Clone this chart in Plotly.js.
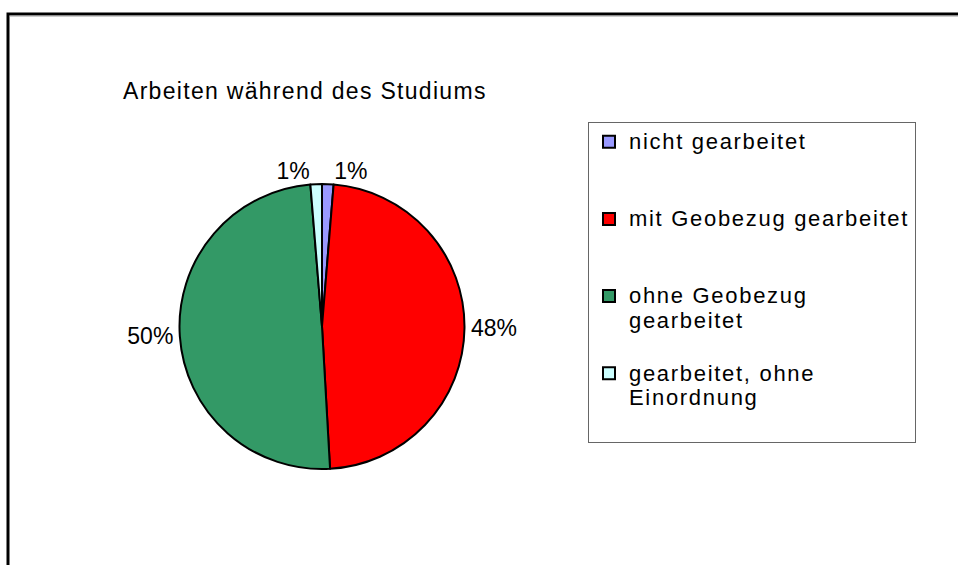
<!DOCTYPE html>
<html>
<head>
<meta charset="utf-8">
<script src="https://cdn.plot.ly/plotly-3.0.1.min.js"></script>
<style>
  html, body { margin: 0; padding: 0; background: #fff; }
  #chart { width: 958px; height: 565px; }
  .gtitle { letter-spacing: 1.3px; }
  .legendtext { letter-spacing: 1.7px; }
</style>
</head>
<body>
<div id="chart"></div>
<script>
// Data
const categories = [
  "nicht gearbeitet",
  "mit Geobezug gearbeitet",
  "ohne Geobezug<br>gearbeitet",
  "gearbeitet, ohne<br>Einordnung"
];
const shares = [1.3, 47.8, 49.6, 1.3];
const sliceColors = ["#9999FF", "#FF0000", "#339966", "#CCFFFF"];
const chartTitle = "Arbeiten während des Studiums";

// legend labels: each entry given three text lines so entries are spread like the original
const LEGEND_LINES = 3;
const legendLabels = categories.map(function (c) {
  const lines = c.split("<br>").map(function (l) {
    return '<span style="font-size:22px">' + l + '</span>';
  });
  while (lines.length < LEGEND_LINES) lines.push("\u00a0");
  return lines.join("<br>");
});

const W = 958, H = 565;

const trace = {
  type: "pie",
  labels: legendLabels,
  values: shares,
  sort: false,
  direction: "clockwise",
  rotation: 0,
  marker: { colors: sliceColors, line: { color: "#000000", width: 2 } },
  textinfo: "percent",
  texttemplate: "%{percent:.0%}",
  textposition: "outside",
  outsidetextfont: { family: "Liberation Sans, Arial, sans-serif", size: 23, color: "#000" },
  hoverinfo: "skip",
  domain: {
    x: [179.5 / W, 464.5 / W],
    y: [1 - 469 / H, 1 - 184 / H]
  }
};

const layout = {
  width: W,
  height: H,
  margin: { l: 0, r: 0, t: 0, b: 0 },
  paper_bgcolor: "#ffffff",
  font: { family: "Liberation Sans, Arial, sans-serif", color: "#000" },
  title: {
    text: chartTitle,
    xref: "paper", yref: "paper",
    x: 123 / W, xanchor: "left",
    y: 1 - 91 / H, yanchor: "middle",
    font: { size: 23, color: "#000" }
  },
  showlegend: true,
  legend: {
    x: 588 / W, xanchor: "left",
    y: 1 - 122 / H, yanchor: "top",
    bgcolor: "rgba(0,0,0,0)",
    bordercolor: "#666666",
    borderwidth: 1,
    valign: "top",
    font: { size: 19, color: "#000" },
    traceorder: "normal"
  },
  shapes: [
    {
      type: "rect", xref: "paper", yref: "paper",
      x0: 8 / W, x1: 1.3, y0: -0.3, y1: 1 - 14 / H,
      line: { color: "#000000", width: 3 },
      fillcolor: "rgba(0,0,0,0)"
    },
    {
      type: "line", xref: "paper", yref: "paper",
      x0: 9.5 / W, x1: 1.3, y0: 1 - 16 / H, y1: 1 - 16 / H,
      line: { color: "#9a9a9a", width: 1 }
    }
  ]
};

Plotly.newPlot("chart", [trace], layout, { displayModeBar: false, staticPlot: true });
</script>
</body>
</html>
